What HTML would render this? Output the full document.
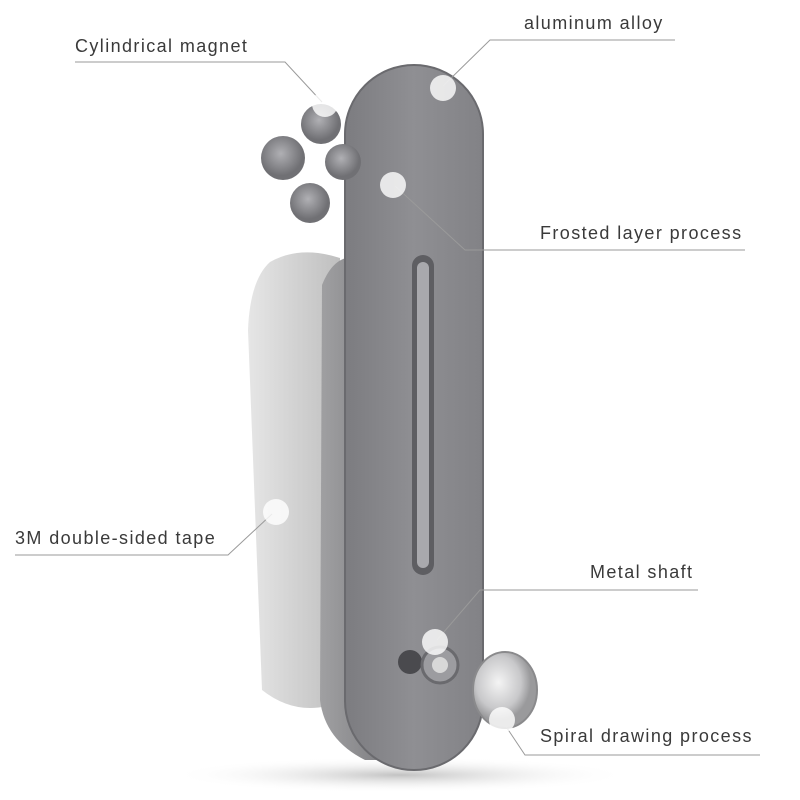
<!DOCTYPE html>
<html><head><meta charset="utf-8"><style>
html,body{margin:0;padding:0;background:#fff;}
svg{display:block}
text{font-family:"Liberation Sans",sans-serif;font-size:18px;fill:#3a3a3a;letter-spacing:1.4px}
</style></head><body>
<svg width="800" height="800" viewBox="0 0 800 800">
<defs>
<linearGradient id="plate" x1="0" x2="1"><stop offset="0" stop-color="#7c7c80"/><stop offset="0.5" stop-color="#8f8f93"/><stop offset="1" stop-color="#828286"/></linearGradient>
<linearGradient id="back" x1="0" x2="1"><stop offset="0" stop-color="#a0a0a2"/><stop offset="1" stop-color="#6e6e72"/></linearGradient>
<linearGradient id="tape" x1="0" x2="1"><stop offset="0" stop-color="#e6e6e6"/><stop offset="1" stop-color="#bdbdbd"/></linearGradient>
<radialGradient id="disc" cx="0.4" cy="0.4"><stop offset="0" stop-color="#f4f4f4"/><stop offset="0.7" stop-color="#c8c8ca"/><stop offset="1" stop-color="#9a9a9c"/></radialGradient>
<radialGradient id="shadow"><stop offset="0" stop-color="#999" stop-opacity="0.6"/><stop offset="1" stop-color="#fff" stop-opacity="0"/></radialGradient>
<radialGradient id="mag" cx="0.45" cy="0.4"><stop offset="0" stop-color="#b0b0b4"/><stop offset="1" stop-color="#707074"/></radialGradient>
</defs>
<ellipse cx="400" cy="775" rx="230" ry="18" fill="url(#shadow)"/>
<path d="M270 262 Q300 245 340 258 L345 700 Q300 720 262 690 L248 330 Q250 280 270 262 Z" fill="url(#tape)"/>
<path d="M322 285 Q335 252 360 258 L420 300 L420 760 L365 760 Q325 740 320 700 Z" fill="url(#back)"/>
<rect x="345" y="65" width="138" height="705" rx="69" fill="url(#plate)"/>
<rect x="345" y="65" width="138" height="705" rx="69" fill="none" stroke="#6a6a6e" stroke-width="2"/>
<rect x="412" y="255" width="22" height="320" rx="11" fill="#5e5e62"/>
<rect x="417" y="262" width="12" height="306" rx="6" fill="#a9a9ad"/>
<circle cx="410" cy="662" r="12" fill="#4a4a4e"/>
<circle cx="440" cy="665" r="18" fill="#9c9ca0" stroke="#6a6a6e" stroke-width="3"/>
<circle cx="440" cy="665" r="8" fill="#d8d8d8"/>
<ellipse cx="505" cy="690" rx="32" ry="38" fill="url(#disc)" stroke="#8a8a8c" stroke-width="2"/>
<circle cx="321" cy="124" r="20" fill="url(#mag)"/>
<circle cx="283" cy="158" r="22" fill="url(#mag)"/>
<circle cx="343" cy="162" r="18" fill="url(#mag)"/>
<circle cx="310" cy="203" r="20" fill="url(#mag)"/>
<g stroke="#9a9a9a" stroke-width="1" fill="none">
<polyline points="75,62 285,62 322,102"/>
<polyline points="675,40 490,40 443,86"/>
<polyline points="745,250 465,250 395,186"/>
<polyline points="15,555 228,555 272,514"/>
<polyline points="698,590 480,590 437,640"/>
<polyline points="760,755 525,755 503,722"/>
</g>
<g fill="#fff" fill-opacity="0.8">
<circle cx="325" cy="104" r="13"/>
<circle cx="443" cy="88" r="13"/>
<circle cx="393" cy="185" r="13"/>
<circle cx="276" cy="512" r="13"/>
<circle cx="435" cy="642" r="13"/>
<circle cx="502" cy="720" r="13"/>
</g>
<text x="75" y="52">Cylindrical magnet</text>
<text x="524" y="29">aluminum alloy</text>
<text x="540" y="239">Frosted layer process</text>
<text x="15" y="544">3M double-sided tape</text>
<text x="590" y="578">Metal shaft</text>
<text x="540" y="742">Spiral drawing process</text>
</svg>
</body></html>
